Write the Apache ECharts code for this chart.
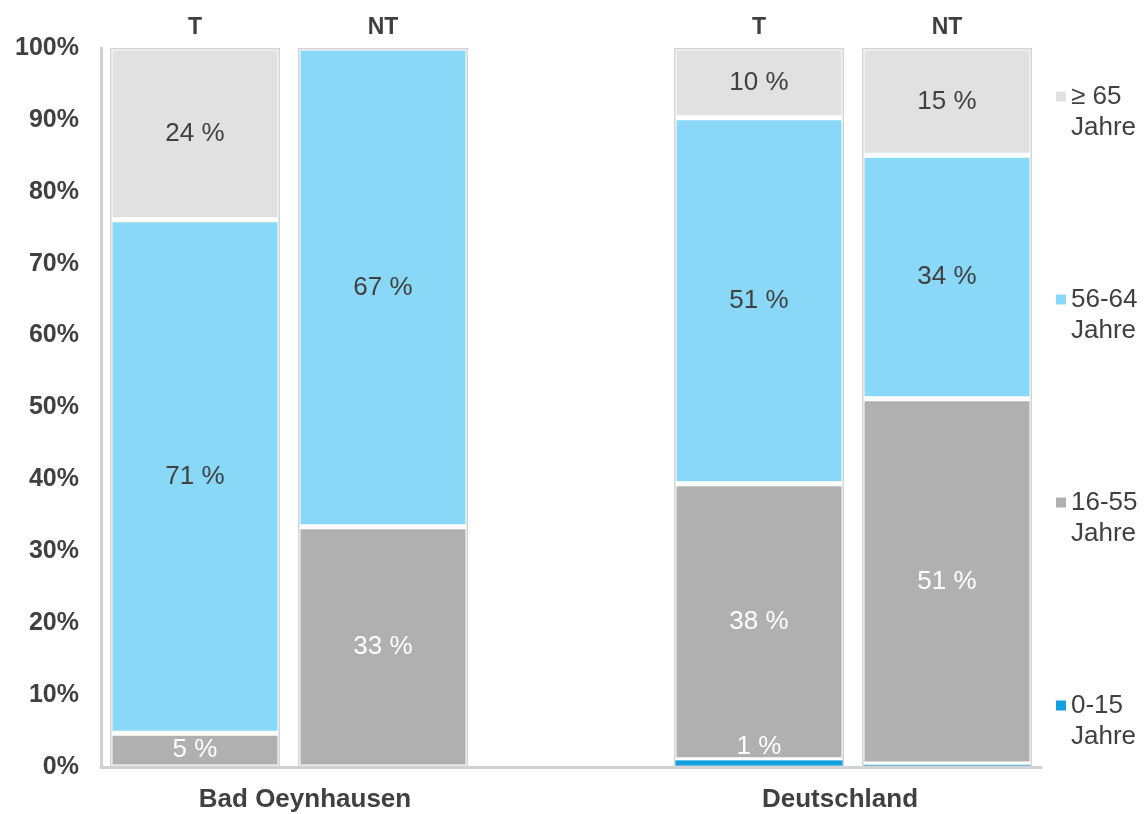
<!DOCTYPE html>
<html>
<head>
<meta charset="utf-8">
<script src="https://cdn.jsdelivr.net/npm/echarts@6/dist/echarts.min.js"></script>
<style>html,body{margin:0;padding:0;background:#fff;}#c{width:1144px;height:814px;}</style>
</head>
<body>
<div id="c"></div>
<script>
// categories (top labels per bar); empty slot separates the two groups
var barLabels = ['T', 'NT', '', 'T', 'NT'];
var groupNames = ['Bad Oeynhausen', 'Deutschland'];
var groupMembers = [[0, 1], [3, 4]];
// series values in percent (null = no bar)
var age0_15  = [0,    0,    null, 1.0,  0.4];
var age16_55 = [4.7,  33.4, null, 38.4, 50.8];
var age56_64 = [71.4, 66.6, null, 50.9, 33.9];
var age65    = [23.9, 0,    null, 9.7,  14.9];
var seriesNames = ['0-15 Jahre', '16-55 Jahre', '56-64 Jahre', '≥ 65 Jahre'];
var yTicks = [0, 10, 20, 30, 40, 50, 60, 70, 80, 90, 100];

var FONT = '"Liberation Sans", Arial, sans-serif';
var TXT = '#404040';
var colors = ['#12a0e0', '#b0b0b0', '#8ad8f8', '#e1e1e1'];
var labelColors = ['#ffffff', '#ffffff', TXT, TXT];

function toData(arr) { return arr.map(function (v) { return (v === null || v === 0) ? '-' : v; }); }
function fmt(p) { return (p.value >= 0.5) ? Math.round(p.value) + ' %' : ''; }

var values = [age0_15, age16_55, age56_64, age65];
var frame = barLabels.map(function (c, i) {
  var s = 0; values.forEach(function (a) { s += (a[i] || 0); });
  return s > 0 ? 100 : '-';
});

var series = values.map(function (arr, k) {
  return {
    name: seriesNames[k],
    type: 'bar',
    stack: 'total',
    barWidth: 170,
    data: toData(arr),
    itemStyle: { color: colors[k], borderColor: '#ffffff', borderWidth: k === 0 ? 0.6 : 2.5 },
    label: {
      show: true,
      position: k === 0 ? 'top' : 'inside',
      distance: 0,
      color: labelColors[k],
      fontSize: 26,
      fontFamily: FONT,
      formatter: fmt
    },
    emphasis: { disabled: true },
    z: 2
  };
});
series.push({
  name: 'frame',
  type: 'bar',
  barWidth: 170,
  barGap: '-100%',
  data: frame,
  itemStyle: { color: 'rgba(0,0,0,0)', borderColor: '#d4d4d4', borderWidth: 1.5 },
  label: { show: false },
  silent: true,
  z: 3
});

var chart = echarts.init(document.getElementById('c'), null, { renderer: 'canvas' });
var option = {
  animation: false,
  backgroundColor: '#ffffff',
  textStyle: { fontFamily: FONT },
  grid: { left: 101, right: 103, top: 48, bottom: 47, containLabel: false },
  legend: {
    orient: 'vertical',
    left: 1056,
    top: 50,
    padding: 0,
    itemGap: 110,
    itemWidth: 10,
    itemHeight: 10,
    icon: 'rect',
    selectedMode: false,
    data: seriesNames.slice().reverse(),
    itemStyle: { borderWidth: 0 },
    formatter: function (n) { return '\n' + n.replace(' Jahre', '\nJahre'); },
    textStyle: { fontSize: 26, lineHeight: 31, color: TXT, fontFamily: FONT }
  },
  xAxis: [
    {
      type: 'category', data: barLabels, position: 'bottom',
      axisLine: { show: true, lineStyle: { color: '#d0d0d0', width: 3 } },
      axisTick: { show: false }, axisLabel: { show: false }, splitLine: { show: false }
    },
    {
      type: 'category', data: barLabels, position: 'top',
      axisLine: { show: false }, axisTick: { show: false },
      axisLabel: { show: true, fontSize: 23, fontWeight: 'bold', color: TXT, margin: 9, fontFamily: FONT }
    }
  ],
  yAxis: {
    type: 'value', min: 0, max: 100, interval: 10,
    axisLine: { show: true, lineStyle: { color: '#d0d0d0', width: 3 } },
    axisTick: { show: false },
    splitLine: { show: false },
    axisLabel: { formatter: '{value}%', fontSize: 25, fontWeight: 'bold', color: TXT, margin: 22, fontFamily: FONT }
  },
  series: series
};
chart.setOption(option);

var offsets = [16, -13];
var graphics = groupNames.map(function (name, g) {
  var a = chart.convertToPixel({ xAxisIndex: 0 }, groupMembers[g][0]);
  var b = chart.convertToPixel({ xAxisIndex: 0 }, groupMembers[g][1]);
  return {
    type: 'text',
    x: (a + b) / 2 + offsets[g],
    y: 800,
    style: { text: name, fill: TXT, font: 'bold 26px ' + FONT, textAlign: 'center', textVerticalAlign: 'middle' },
    silent: true
  };
});
chart.setOption({ graphic: graphics });
</script>
</body>
</html>
